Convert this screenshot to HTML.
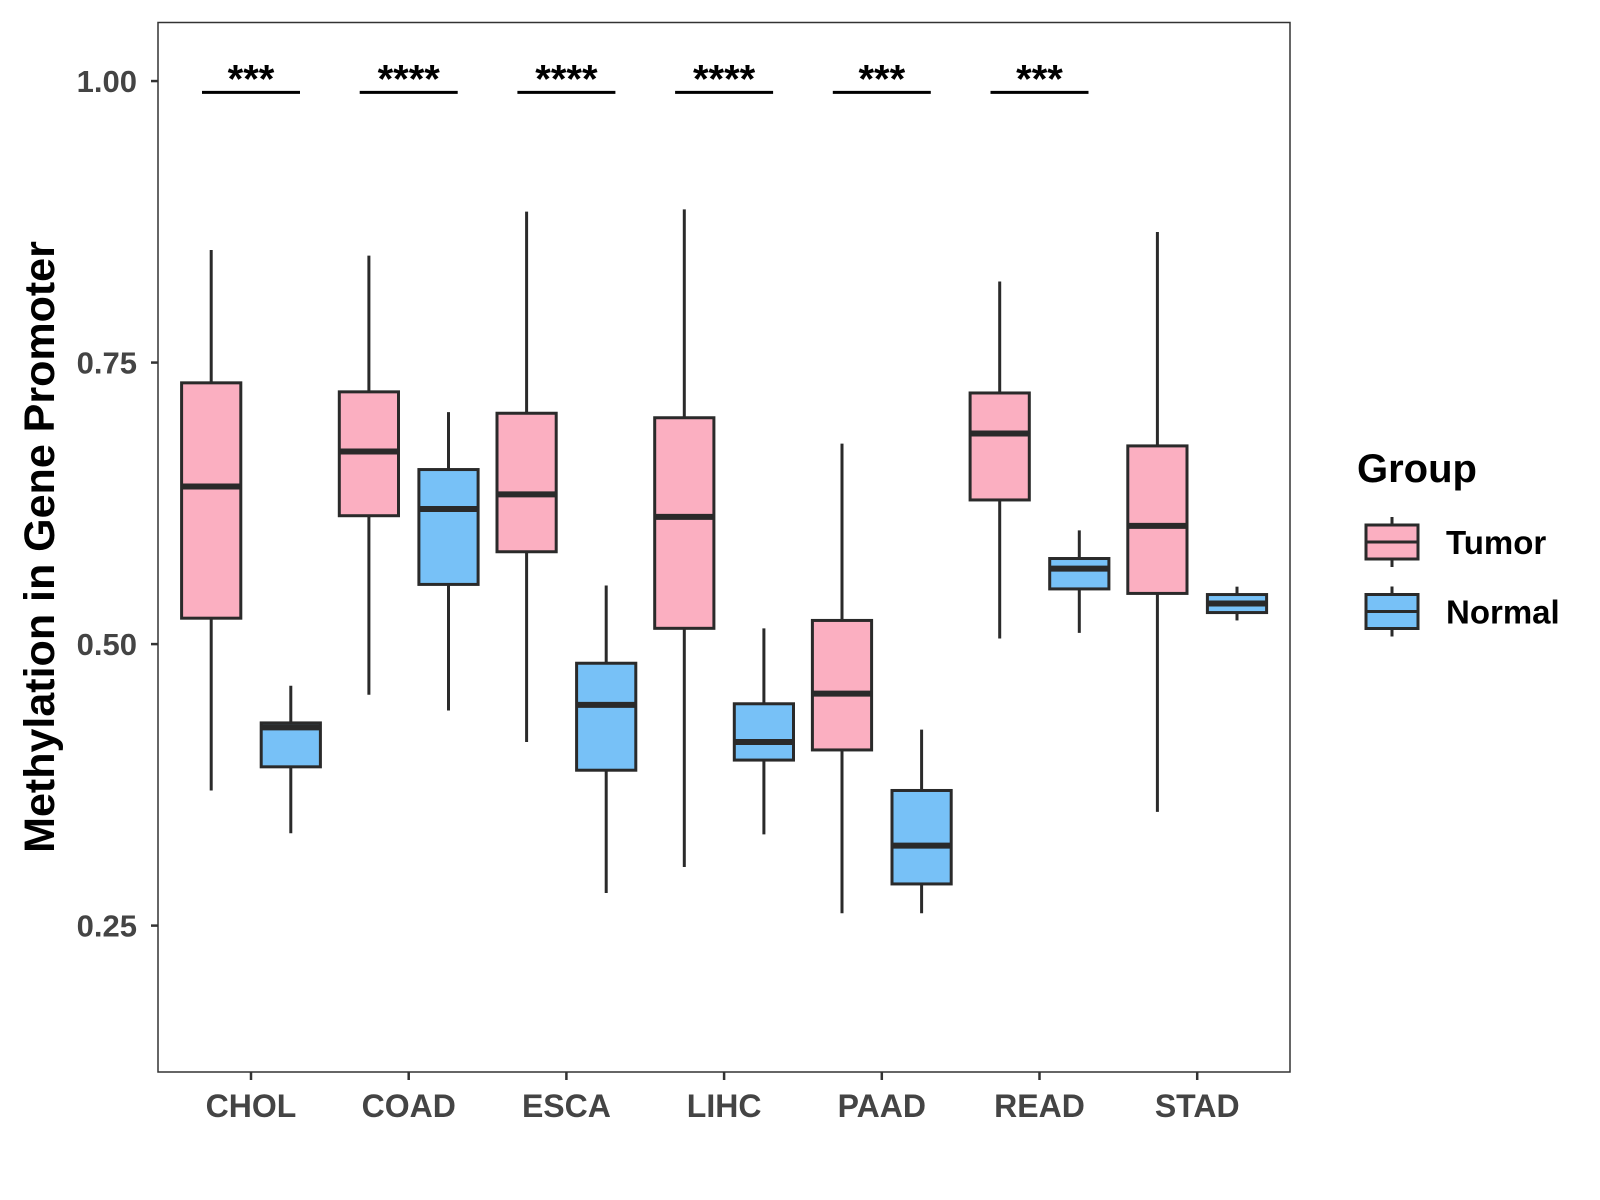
<!DOCTYPE html>
<html><head><meta charset="utf-8"><style>
html,body{margin:0;padding:0;background:#fff;}
svg{display:block;font-family:"Liberation Sans",Arial,sans-serif;}
</style></head><body>
<svg id="chart" width="1600" height="1200" viewBox="0 0 1600 1200"></svg>
<script>
const categories=["CHOL","COAD","ESCA","LIHC","PAAD","READ","STAD"];
const groups=["Tumor","Normal"];
// [whiskerLow, Q1, median, Q3, whiskerHigh]
const tumorStats=[[0.370,0.523,0.640,0.732,0.850],[0.455,0.614,0.671,0.724,0.845],[0.413,0.582,0.633,0.705,0.884],[0.302,0.514,0.613,0.701,0.886],[0.261,0.406,0.456,0.521,0.678],[0.505,0.628,0.687,0.723,0.822],[0.351,0.545,0.605,0.676,0.866]];
const normalStats=[[0.332,0.391,0.426,0.430,0.463],[0.441,0.553,0.620,0.655,0.706],[0.279,0.388,0.446,0.483,0.552],[0.331,0.397,0.413,0.447,0.514],[0.261,0.287,0.321,0.370,0.424],[0.510,0.549,0.567,0.576,0.601],[0.521,0.528,0.536,0.544,0.551]];
const sigLabels=["***","****","****","****","***","***",""];
const yTicks=[0.25,0.50,0.75,1.00];
const yTickLabels=["0.25","0.50","0.75","1.00"];

const NS="http://www.w3.org/2000/svg";
const svg=document.getElementById('chart');
const L=158,T=22.5,R=1290,B=1072;
const yMin=0.12,yMax=1.052;
const y=v=>B-(v-yMin)/(yMax-yMin)*(B-T);
const x=i=>251+i*157.7;
const off=[-39.8,39.8], hw=29.6;
const fills=["#FBAFC1","#77C1F7"];
function el(t,a,p){const e=document.createElementNS(NS,t);for(const k in a)e.setAttribute(k,a[k]);(p||svg).appendChild(e);return e;}

const panel=el('rect',{x:L,y:T,width:R-L,height:B-T,fill:'#fff',stroke:'#333','stroke-width':1.5});



yTicks.forEach((v,i)=>{
  const tk=el('line',{x1:L-7,x2:L,y1:y(v),y2:y(v),stroke:'#333','stroke-width':2.5});
  
  
  const t=el('text',{x:L-21,y:y(v)+11,'text-anchor':'end','font-size':31,'font-weight':'bold',fill:'#444'});
  t.textContent=yTickLabels[i];
  
  
});
categories.forEach((c,i)=>{
  const tk=el('line',{x1:x(i),x2:x(i),y1:B,y2:B+8,stroke:'#333','stroke-width':2.5});
  
  
  const t=el('text',{x:x(i),y:B+45,'text-anchor':'middle','font-size':32,'font-weight':'bold',fill:'#444'});
  t.textContent=c;
  
  
});

function box(cx,s,fill,name){
  const g=el('g',{});
  
  
  el('line',{x1:cx,x2:cx,y1:y(s[0]),y2:y(s[4]),stroke:'#2a2a2a','stroke-width':3},g);
  el('rect',{x:cx-hw,y:y(s[3]),width:2*hw,height:y(s[1])-y(s[3]),fill:fill,stroke:'#2a2a2a','stroke-width':3},g);
  el('line',{x1:cx-hw,x2:cx+hw,y1:y(s[2]),y2:y(s[2]),stroke:'#2a2a2a','stroke-width':6},g);
}
categories.forEach((c,i)=>{
  box(x(i)+off[0],tumorStats[i],fills[0],'box-tumor-'+c.toLowerCase());
  box(x(i)+off[1],normalStats[i],fills[1],'box-normal-'+c.toLowerCase());
  if(sigLabels[i]){
    const ln=el('line',{x1:x(i)-49,x2:x(i)+49,y1:y(0.99),y2:y(0.99),stroke:'#000','stroke-width':3});
    
    
    const t=el('text',{x:x(i),y:y(0.99),'text-anchor':'middle','font-size':40,'font-weight':'bold',fill:'#000'});
    t.textContent=sigLabels[i];
    
    
  }
});

const yt=el('text',{x:0,y:0,transform:'translate(54,547) rotate(-90)','text-anchor':'middle','font-size':43,'font-weight':'bold',fill:'#000'});
yt.textContent='Methylation in Gene Promoter';



const lg=el('g',{});


const lt=el('text',{x:1357,y:482,'font-size':40,'font-weight':'bold',fill:'#000'},lg);
lt.textContent='Group';


groups.forEach((gname,k)=>{
  const cy=542+k*69.5;
  const e=el('g',{},lg);
  
  
  el('line',{x1:1392,x2:1392,y1:cy-25,y2:cy+25,stroke:'#2a2a2a','stroke-width':3},e);
  el('rect',{x:1366,y:cy-17,width:52,height:34,fill:fills[k],stroke:'#2a2a2a','stroke-width':3},e);
  el('line',{x1:1366,x2:1418,y1:cy,y2:cy,stroke:'#2a2a2a','stroke-width':3},e);
  const t=el('text',{x:1446,y:cy+12,'font-size':33,'font-weight':'bold',fill:'#000'},e);
  t.textContent=gname;
});
</script>
</body></html>
